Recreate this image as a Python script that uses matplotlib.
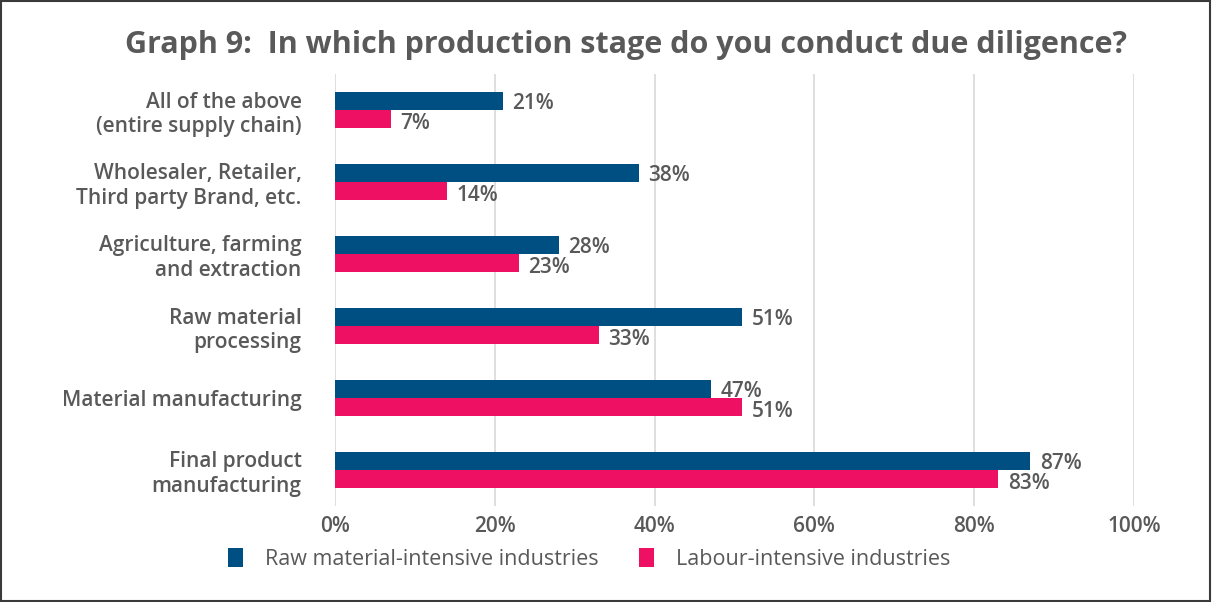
import matplotlib.pyplot as plt
from matplotlib.patches import Rectangle
import numpy as np

plt.rcParams['font.family'] = ['Open Sans', 'DejaVu Sans']

# categories listed top to bottom
categories = ['All of the above\n(entire supply chain)',
              'Wholesaler, Retailer,\nThird party Brand, etc.',
              'Agriculture, farming\nand extraction',
              'Raw material\nprocessing',
              'Material manufacturing',
              'Final product\nmanufacturing']
raw_material = [21, 38, 28, 51, 47, 87]
labour = [7, 14, 23, 33, 51, 83]
series_names = ['Raw material-intensive industries', 'Labour-intensive industries']
xticks = [0, 20, 40, 60, 80, 100]

blue = '#004f83'
pink = '#ee1163'
grey = '#595959'

fig = plt.figure(figsize=(12.12, 6.02), dpi=100)
ax = fig.add_axes([335 / 1212, 96 / 602, 799 / 1212, 432 / 602])

n = len(categories)
y = np.arange(n)[::-1]
h = 0.25
b1 = ax.barh(y + h / 2, raw_material, height=h, color=blue, label=series_names[0], zorder=3)
b2 = ax.barh(y - h / 2, labour, height=h, color=pink, label=series_names[1], zorder=3)

for bars, vals, dy in [(b1, raw_material, -1.5), (b2, labour, -3.5)]:
    for rect, v in zip(bars, vals):
        ax.annotate(f'{v}%', (v, rect.get_y() + rect.get_height() / 2),
                    xytext=(7, dy), textcoords='offset points', va='center', ha='left',
                    fontsize=15, fontweight='semibold', color=grey)

ax.set_xlim(0, 100)
ax.set_ylim(-0.5, n - 0.5)
ax.set_xticks(xticks)
ax.set_xticklabels([f'{t}%' for t in xticks], fontsize=15, fontweight='semibold', color=grey)
ax.set_yticks(y)
ax.set_yticklabels(categories, fontsize=15, fontweight='semibold', color=grey, linespacing=1.2)
ax.tick_params(axis='both', length=0)
ax.tick_params(axis='y', pad=24)
ax.tick_params(axis='x', pad=7)
ax.grid(axis='x', color='#d9d9d9', lw=1.2, zorder=0)
for s in ax.spines.values():
    s.set_visible(False)

fig.text(626 / 1212, 0.925, 'Graph 9:  In which production stage do you conduct due diligence?',
         ha='center', va='center', fontsize=22, fontweight='bold', color=grey)

leg = fig.legend(handles=[b1, b2], loc='center', bbox_to_anchor=(589 / 1212, 1 - 559 / 602),
                 ncol=2, frameon=False, fontsize=15.5, handlelength=0.7, handleheight=1.0,
                 handletextpad=1.0, columnspacing=1.9)
for t in leg.get_texts():
    t.set_color(grey)

fig.patches.append(Rectangle((0.001, 0.001), 0.997, 0.997, transform=fig.transFigure,
                             fill=False, edgecolor='#3a3a3a', lw=1.5))

fig.savefig('out.png', dpi=100)
